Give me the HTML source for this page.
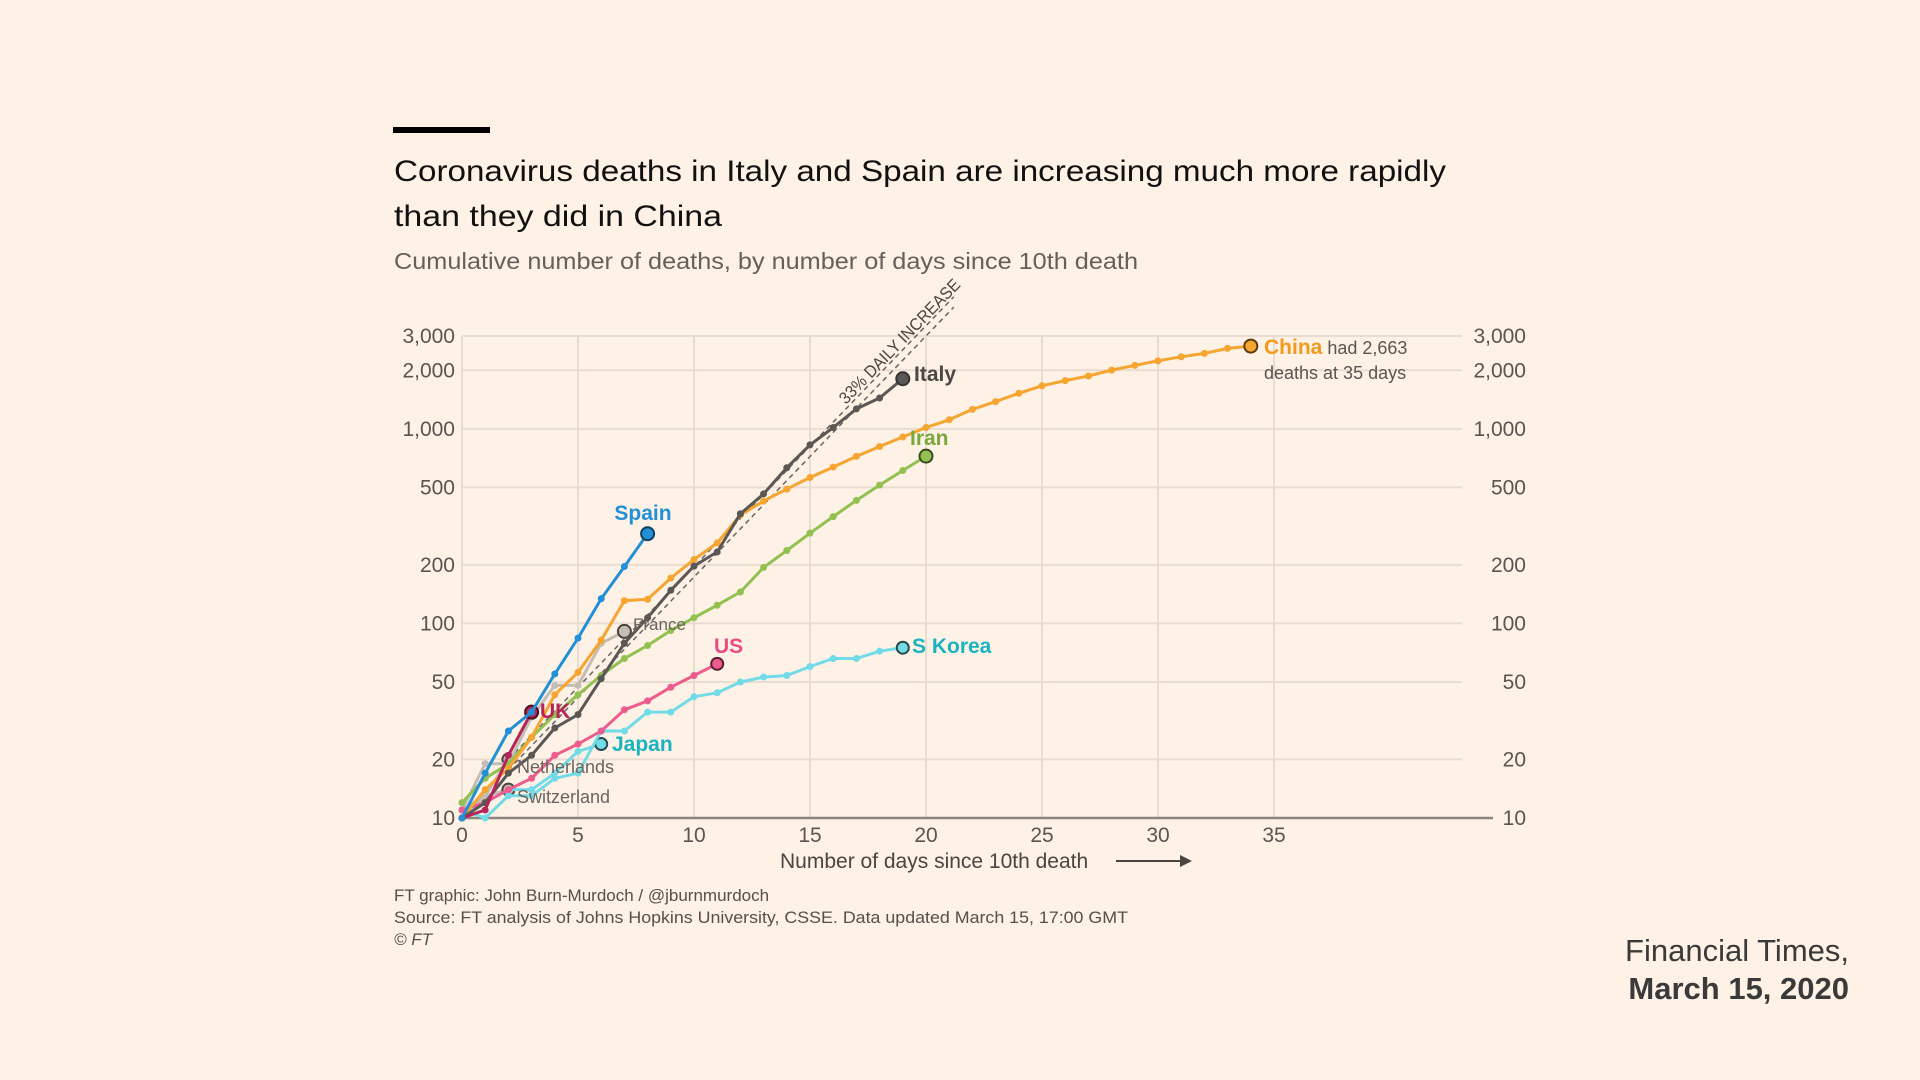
<!DOCTYPE html>
<html><head><meta charset="utf-8">
<style>
html,body{margin:0;padding:0;background:#fef1e6;}
svg{display:block;font-family:"Liberation Sans",sans-serif;}
</style></head>
<body>
<svg id="chart" width="1920" height="1080" viewBox="0 0 1920 1080">
<rect x="0" y="0" width="1920" height="1080" fill="#fef1e6"/>
<rect x="393" y="127" width="97" height="6" fill="#000"/>
<text x="394" y="181" font-size="30" fill="#111" textLength="1052" lengthAdjust="spacingAndGlyphs">Coronavirus deaths in Italy and Spain are increasing much more rapidly</text>
<text x="394" y="226" font-size="30" fill="#111" textLength="328" lengthAdjust="spacingAndGlyphs">than they did in China</text>
<text x="394" y="269" font-size="23" fill="#66605a" textLength="744" lengthAdjust="spacingAndGlyphs">Cumulative number of deaths, by number of days since 10th death</text>
<g id="grid"></g>
<g id="axes"></g>
<g id="guide"></g>
<g id="series"></g>
<g id="labels"></g>
<text x="780" y="868" font-size="21" fill="#4a4540">Number of days since 10th death</text>
<line x1="1116" y1="861" x2="1182" y2="861" stroke="#4a4540" stroke-width="2"/>
<polygon points="1180,855 1192,861 1180,867" fill="#4a4540"/>
<text x="394" y="901" font-size="17" fill="#55504a">FT graphic: John Burn-Murdoch / @jburnmurdoch</text>
<text x="394" y="923" font-size="17" fill="#55504a" textLength="734" lengthAdjust="spacingAndGlyphs">Source: FT analysis of Johns Hopkins University, CSSE. Data updated March 15, 17:00 GMT</text>
<text x="394" y="945" font-size="17" fill="#55504a" font-style="italic">© FT</text>
<text x="1849" y="961" font-size="31" fill="#3a3a3a" text-anchor="end">Financial Times,</text>
<text x="1849" y="999" font-size="31" font-weight="bold" fill="#3a3a3a" text-anchor="end">March 15, 2020</text>
</svg>
<script>
const yTicks = [10, 20, 50, 100, 200, 500, 1000, 2000, 3000];
const yTickLabels = ["10", "20", "50", "100", "200", "500", "1,000", "2,000", "3,000"];
const xTicks = [0, 5, 10, 15, 20, 25, 30, 35];
const spain = [10, 17, 28, 35, 55, 84, 134, 196, 289];
const italy = [10, 12, 17, 21, 29, 34, 52, 79, 107, 148, 197, 233, 366, 463, 631, 827, 1016, 1266, 1441, 1809];
const china = [10, 14, 18, 26, 43, 56, 82, 131, 133, 171, 213, 259, 361, 425, 490, 562, 636, 722, 811, 908, 1016, 1113, 1259, 1380, 1523, 1665, 1770, 1868, 2004, 2118, 2236, 2345, 2442, 2592, 2663];
const iran = [12, 16, 19, 26, 34, 43, 54, 66, 77, 92, 107, 124, 145, 194, 237, 291, 354, 429, 514, 611, 724];
const sKorea = [11, 10, 13, 13, 16, 17, 28, 28, 35, 35, 42, 44, 50, 53, 54, 60, 66, 66, 72, 75];
const japan = [10, 12, 14, 14, 17, 22, 24];
const us = [11, 12, 14, 16, 21, 24, 28, 36, 40, 47, 54, 62];
const uk = [10, 11, 21, 35];
const france = [11, 19, 19, 33, 48, 48, 79, 91];
const netherlands = [10, 13, 20];
const switzerland = [11, 13, 14];
const guideDays = [2, 21.2];
const guideRate = 1.33;

const NS = "http://www.w3.org/2000/svg";
const X0 = 462, DX = 23.2, YTOP = 336, YBOT = 818;
const xS = d => X0 + DX * d;
const yS = v => YBOT - (Math.log10(v) - 1) / (Math.log10(3000) - 1) * (YBOT - YTOP);
function mk(tag, attrs, parent) {
  const e = document.createElementNS(NS, tag);
  for (const k in attrs) e.setAttribute(k, attrs[k]);
  parent.appendChild(e);
  return e;
}
const grid = document.getElementById("grid");
const axes = document.getElementById("axes");
yTicks.forEach((t, i) => {
  const y = yS(t);
  if (t !== 10) {
    const g = mk("line", {x1: X0, x2: 1462, y1: y, y2: y, stroke: "#eadcd0", "stroke-width": 2}, grid);
    
    
  }
  const l = mk("text", {x: 455, y: y + 7, "font-size": 21, fill: "#5a5550", "text-anchor": "end"}, axes);
  l.textContent = yTickLabels[i];
  
  
  const r = mk("text", {x: 1526, y: y + 7, "font-size": 21, fill: "#5a5550", "text-anchor": "end"}, axes);
  r.textContent = yTickLabels[i];
  
  
});
xTicks.forEach(t => {
  const x = xS(t);
  const g = mk("line", {x1: x, x2: x, y1: YTOP, y2: YBOT, stroke: "#eadcd0", "stroke-width": 2}, grid);
  
  
  const l = mk("text", {x: x, y: 842, "font-size": 21, fill: "#5a5550", "text-anchor": "middle"}, axes);
  l.textContent = String(t);
  
  
});
const base = mk("line", {x1: X0, x2: 1493, y1: YBOT, y2: YBOT, stroke: "#8a8580", "stroke-width": 2.5}, axes);



const guide = document.getElementById("guide");
[1, 1.13].forEach(f => {
  const v0 = 10 * Math.pow(guideRate, guideDays[0]) * f;
  const v1 = 10 * Math.pow(guideRate, guideDays[1]) * f;
  const ln = mk("line", {x1: xS(guideDays[0]), y1: yS(v0), x2: xS(guideDays[1]), y2: yS(v1), stroke: "#6a6560", "stroke-width": 1.5, "stroke-dasharray": "5,4"}, guide);
  
  
});
const gt = mk("text", {x: 0, y: 0, "font-size": 17, fill: "#4a4540", textLength: 166, lengthAdjust: "spacingAndGlyphs", transform: "translate(846,405) rotate(-46)"}, guide);
gt.textContent = "33% DAILY INCREASE";



const seriesG = document.getElementById("series");
function drawSeries(name, data, color, endR, endStroke) {
  const g = mk("g", {}, seriesG);
  
  
  const pts = data.map((v, i) => xS(i).toFixed(1) + "," + yS(v).toFixed(1)).join(" ");
  const pl = mk("polyline", {points: pts, fill: "none", stroke: color, "stroke-width": 3, "stroke-linejoin": "round"}, g);
  
  
  data.forEach((v, i) => {
    const last = i === data.length - 1;
    const c = mk("circle", {cx: xS(i), cy: yS(v), r: last ? endR : 3.5, fill: color, stroke: last ? endStroke : "none", "stroke-width": last ? 2 : 0}, g);
    
    
  });
}
drawSeries("switzerland", switzerland, "#c4bdb5", 6, "#4a4540");
drawSeries("netherlands", netherlands, "#c4bdb5", 6, "#4a4540");
drawSeries("france", france, "#c4bdb5", 6.5, "#4a4540");
drawSeries("japan", japan, "#72dbe8", 6, "#2a4a50");
drawSeries("s-korea", sKorea, "#72dbe8", 6, "#2a4a50");
drawSeries("us", us, "#ec5c8c", 6, "#5a2030");
drawSeries("iran", iran, "#93c151", 6.5, "#3a4a20");
drawSeries("china", china, "#f5a530", 6.5, "#5a3a10");
drawSeries("italy", italy, "#5a5754", 6.5, "#333");
drawSeries("uk", uk, "#b7245a", 6.5, "#4a1020");
drawSeries("spain", spain, "#2290d6", 6.5, "#104060");

const labels = document.getElementById("labels");
function lab(name, txt, x, y, color, size, weight, anchor) {
  const t = mk("text", {x: x, y: y, "font-size": size, "font-weight": weight, fill: color, "text-anchor": anchor || "start"}, labels);
  t.textContent = txt;
  
  
  return t;
}
lab("spain-label", "Spain", 643, 520, "#2290d6", 21, "bold", "middle");
lab("italy-label", "Italy", 914, 381, "#4a4744", 21, "bold");
lab("iran-label", "Iran", 910, 445, "#7aa83a", 21, "bold");
lab("s-korea-label", "S Korea", 912, 653, "#1ab3c0", 21, "bold");
lab("us-label", "US", 714, 653, "#e84c82", 21, "bold");
lab("uk-label", "UK", 540, 718, "#b7245a", 21, "bold");
lab("japan-label", "Japan", 612, 751, "#1ab3c0", 21, "bold");
lab("france-label", "France", 633, 630, "#6a6560", 17, "normal");
lab("netherlands-label", "Netherlands", 517, 773, "#6a6560", 18, "normal");
lab("switzerland-label", "Switzerland", 517, 803, "#6a6560", 18, "normal");
const ch = lab("china-label", "", 1264, 354, "#f29a1e", 21, "bold");
const t1 = mk("tspan", {}, ch); t1.textContent = "China";


const t2 = mk("tspan", {fill: "#5a5550", "font-weight": "normal", "font-size": 18}, ch); t2.textContent = " had 2,663";


lab("china-annotation-line-2", "deaths at 35 days", 1264, 379, "#5a5550", 18, "normal");
</script>
</body></html>
